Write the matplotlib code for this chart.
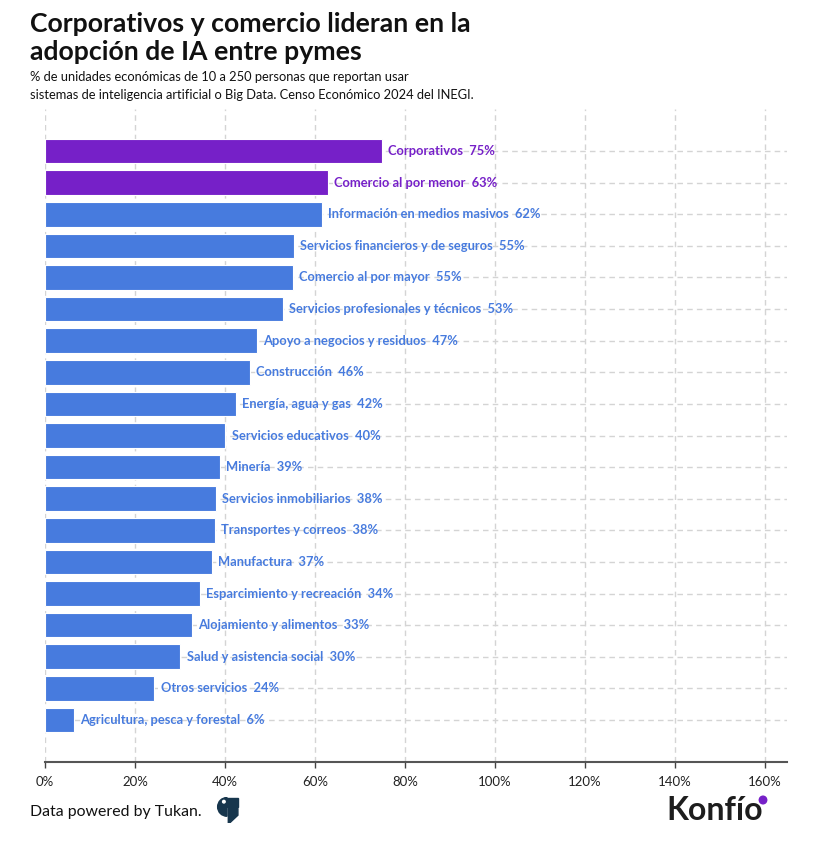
import matplotlib
matplotlib.use("Agg")
import matplotlib.pyplot as plt
from matplotlib.patches import Polygon, Wedge, Circle

plt.rcParams['font.family'] = ['Lato', 'DejaVu Sans']

categories = ["Corporativos", "Comercio al por menor", "Información en medios masivos",
              "Servicios financieros y de seguros", "Comercio al por mayor",
              "Servicios profesionales y técnicos", "Apoyo a negocios y residuos",
              "Construcción", "Energía, agua y gas", "Servicios educativos", "Minería",
              "Servicios inmobiliarios", "Transportes y correos", "Manufactura",
              "Esparcimiento y recreación", "Alojamiento y alimentos",
              "Salud y asistencia social", "Otros servicios", "Agricultura, pesca y forestal"]
values = [74.9, 62.9, 61.6, 55.3, 55.1, 52.9, 47.1, 45.6, 42.4, 40.1, 38.8, 38.0,
          37.8, 37.1, 34.4, 32.7, 30.1, 24.3, 6.4]
labels_pct = [75, 63, 62, 55, 55, 53, 47, 46, 42, 40, 39, 38, 38, 37, 34, 33, 30, 24, 6]
highlight = [True, True] + [False] * 17
xticks = [0, 20, 40, 60, 80, 100, 120, 140, 160]

PURPLE = "#7620C8"
BLUE = "#477BDE"

fig = plt.figure(figsize=(8.28, 8.52), dpi=100)
ax = fig.add_axes([45/828, 1-762/852, (787-45)/828, (762-109)/852])

ypos = list(range(len(categories)))
colors = [PURPLE if h else BLUE for h in highlight]
ax.barh(ypos, values, height=0.78, color=colors, edgecolor="white", linewidth=0.8, zorder=3)

for y, v, c, lab, p in zip(ypos, values, colors, categories, labels_pct):
    ax.text(v + 1.4, y, f"{lab}  {p}%", color=c, va="center", ha="left",
            fontsize=9.3, fontweight="bold", zorder=4)

ax.set_xlim(0, 164.9)
ax.set_ylim(len(categories) - 1 + 1.33, -1.33)
ax.set_xticks(xticks)
ax.set_xticklabels([f"{t}%" for t in xticks], fontsize=9.5, color="#222222")
ax.set_yticks(ypos)
ax.tick_params(axis="y", length=0, labelleft=False)
ax.tick_params(axis="x", length=4, color="#444444", width=1, pad=6)
ax.grid(True, axis="both", linestyle=(0, (4, 3)), color="#d4d4d4", linewidth=1, zorder=0)
for s in ["top", "right", "left"]:
    ax.spines[s].set_visible(False)
ax.spines["bottom"].set_color("#555555")
ax.spines["bottom"].set_linewidth(1.5)

fig.text(30/828, 1-12/852, "Corporativos y comercio lideran en la\nadopción de IA entre pymes",
         fontsize=19.2, fontweight="bold", va="top", ha="left", color="#111111", linespacing=1.2)
fig.text(30/828, 1-71/852, "% de unidades económicas de 10 a 250 personas que reportan usar\n"
         "sistemas de inteligencia artificial o Big Data. Censo Económico 2024 del INEGI.",
         fontsize=9.3, va="top", ha="left", color="#111111", linespacing=1.6)

fig.text(30/828, 1-812/852, "Data powered by Tukan.", fontsize=11.4, va="center", ha="left",
         color="#111111")

# Tukan logo (simple)
lax = fig.add_axes([214/828, 1-823/852, 26/828, 26/852])
lax.set_xlim(0, 1); lax.set_ylim(0, 1); lax.axis("off")
navy = "#17364d"
lax.add_patch(Wedge((0.5, 0.62), 0.36, 90, 270, color=navy))
lax.add_patch(Polygon([[0.5, 0.98], [0.92, 0.98], [0.92, 0.62], [0.5, 0.62]], color=navy))
lax.add_patch(Polygon([[0.55, 0.56], [0.92, 0.56], [0.92, 0.3], [0.6, 0.0], [0.55, 0.0]], color=navy))
lax.add_patch(Circle((0.38, 0.82), 0.05, color="white"))

# Konfio logo
fig.text(666/828, 1-810/852, "Konfío", fontsize=23, fontweight="bold", va="center", ha="left",
         color="#1d1d1d")
fig.patches.append(Circle((763/828, 1-800/852), 0.0045, transform=fig.transFigure,
                          color=PURPLE, figure=fig))

fig.savefig("out.png", dpi=100)
